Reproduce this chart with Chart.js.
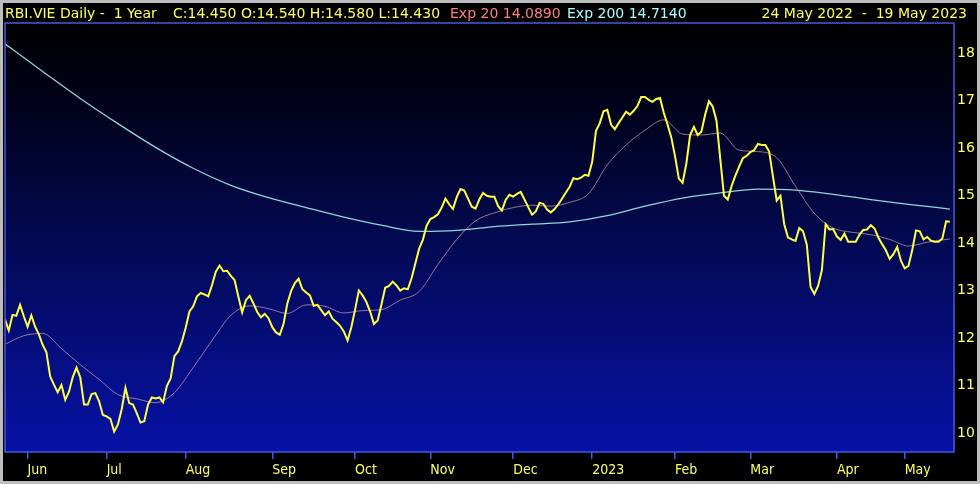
<!DOCTYPE html>
<html><head><meta charset="utf-8">
<script src="https://cdn.jsdelivr.net/npm/chart.js@4.4.0/dist/chart.umd.min.js"></script>
<style>html,body{margin:0;padding:0;background:#000;overflow:hidden}#wrap{width:980px;height:484px;position:relative}</style>
</head><body><div id="wrap"><canvas id="c" width="980" height="484"></canvas></div>
<script>
// Daily closes, 24 May 2022 .. 19 May 2023 (trading days)
const closes = [
12.39,12.16,12.49,12.47,12.70,12.46,12.24,12.48,12.24,12.08,
11.86,11.70,11.19,11.02,10.86,11.01,10.70,10.87,11.18,11.38,
11.17,10.60,10.60,10.82,10.84,10.67,10.38,10.35,10.30,10.03,
10.18,10.50,10.95,10.63,10.60,10.42,10.22,10.25,10.60,10.75,
10.73,10.75,10.65,10.99,11.15,11.62,11.72,11.93,12.22,12.56,
12.67,12.88,12.95,12.92,12.88,13.12,13.40,13.53,13.41,13.42,
13.31,13.22,12.87,12.54,12.80,12.89,12.73,12.55,12.44,12.51,
12.42,12.23,12.12,12.07,12.30,12.73,12.99,13.16,13.25,13.03,
12.96,12.90,12.68,12.70,12.59,12.48,12.56,12.41,12.34,12.26,
12.14,11.95,12.23,12.60,13.00,12.90,12.76,12.56,12.30,12.37,
12.71,13.06,13.10,13.19,13.11,13.00,13.05,13.03,13.26,13.57,
13.88,14.07,14.37,14.51,14.55,14.61,14.75,14.94,14.82,14.72,
14.97,15.14,15.11,14.94,14.77,14.73,14.92,15.06,15.00,14.98,
14.98,14.78,14.69,14.91,15.02,14.98,15.04,15.08,14.92,14.76,
14.60,14.67,14.85,14.83,14.71,14.65,14.72,14.82,14.94,15.07,
15.19,15.37,15.35,15.38,15.44,15.42,15.72,16.37,16.53,16.78,
16.81,16.50,16.40,16.53,16.65,16.77,16.71,16.79,16.89,17.08,
17.08,17.02,16.98,17.04,17.06,16.75,16.50,16.23,15.83,15.36,
15.27,15.68,16.28,16.45,16.28,16.35,16.71,16.99,16.88,16.58,
15.78,15.00,14.92,15.20,15.42,15.61,15.79,15.84,15.92,15.96,
16.09,16.07,16.07,15.93,15.41,14.90,15.00,14.40,14.12,14.08,
14.05,14.32,14.25,13.97,13.08,12.93,13.10,13.43,14.40,14.29,
14.30,14.14,14.07,14.20,14.03,14.03,14.03,14.18,14.28,14.29,
14.38,14.31,14.12,13.98,13.85,13.67,13.77,13.92,13.63,13.47,
13.52,13.85,14.27,14.25,14.08,14.13,14.05,14.03,14.03,14.10,
14.46,14.45
];
// Exponential averages at these trading-day indexes
const ema20Days = [0,5,10,15,20,25,30,35,40,45,50,55,60,65,70,75,80,85,90,95,100,105,110,115,120,125,130,135,140,145,150,155,160,165,170,175,180,185,190,195,200,205,210,215,220,225,230,235,240,245,251];
const ema20 = [11.87,12.05,12.10,11.78,11.44,11.13,10.81,10.72,10.64,10.85,11.38,11.95,12.48,12.68,12.62,12.52,12.70,12.67,12.53,12.58,12.60,12.80,12.98,13.55,14.08,14.47,14.64,14.75,14.80,14.78,14.86,15.04,15.65,16.07,16.38,16.60,16.30,16.28,16.32,15.96,15.93,15.80,15.20,14.63,14.32,14.23,14.18,14.08,13.94,14.02,14.09];
const ema200Days = [0,10,20,30,40,50,60,70,80,90,100,110,120,130,140,150,160,170,180,190,200,210,220,230,240,251];
const ema200 = [18.20,17.62,17.05,16.52,16.02,15.58,15.22,14.96,14.75,14.55,14.38,14.25,14.27,14.35,14.40,14.45,14.58,14.78,14.95,15.06,15.14,15.12,15.03,14.92,14.82,14.72];

const monthStartDays = [6,27,48,71,93,113,135,156,178,198,221,239];
const monthLabels = ['Jun','Jul','Aug','Sep','Oct','Nov','Dec','2023','Feb','Mar','Apr','May'];
const priceTicks = [10,11,12,13,14,15,16,17,18];

const headerParts = [
  {text:'RBI.VIE Daily -  1 Year', color:'#ffff66', x:5, w:155, align:'left'},
  {text:'C:14.450 O:14.540 H:14.580 L:14.430', color:'#ffff66', x:173, w:272, align:'left'},
  {text:'Exp 20 14.0890', color:'#ff7f85', x:450, w:113, align:'left'},
  {text:'Exp 200 14.7140', color:'#a8ffff', x:567, w:122, align:'left'},
  {text:'24 May 2022  -  19 May 2023', color:'#ffff66', x:967, w:214, align:'right'}
];

const YEL = '#ffff66';
const AXIS_FONT = "'Liberation Sans Narrow','DejaVu Sans Condensed',sans-serif";

const bgPlugin = {
  id:'bg',
  beforeDraw(chart){
    const {ctx, chartArea:a, width, height} = chart;
    ctx.save();
    ctx.fillStyle = '#000';
    ctx.fillRect(0,0,width,height);
    const g = ctx.createLinearGradient(0,a.top,0,a.bottom);
    g.addColorStop(0,'#000000');
    g.addColorStop(0.25,'#010324');
    g.addColorStop(0.55,'#030a5a');
    g.addColorStop(1,'#0712a6');
    ctx.fillStyle = g;
    ctx.fillRect(a.left,a.top,a.right-a.left,a.bottom-a.top);
    ctx.restore();
  },
  afterDraw(chart){
    const {ctx, chartArea:a, width, height} = chart;
    ctx.save();
    ctx.strokeStyle = '#4858e0';
    ctx.lineWidth = 1.5;
    ctx.strokeRect(a.left,a.top,a.right-a.left,a.bottom-a.top);
    ctx.font = "14px 'DejaVu Sans',sans-serif";
    ctx.textBaseline = 'middle';
    headerParts.forEach(p=>{
      ctx.fillStyle = p.color;
      ctx.textAlign = p.align;
      ctx.fillText(p.text,p.x,14,p.w);
    });
    ctx.strokeStyle = '#bdbdbd';
    ctx.lineWidth = 3;
    ctx.strokeRect(1.5,1.5,width-3,height-3);
    ctx.restore();
  }
};

new Chart(document.getElementById('c'),{
  type:'line',
  data:{datasets:[
    {label:'Close', data:closes.map((v,i)=>({x:i,y:v})), borderColor:'#ffff40', borderWidth:2, pointRadius:0, tension:0, order:0},
    {label:'Exp 20', data:ema20Days.map((d,k)=>({x:d,y:ema20[k]})), borderColor:'rgba(200,150,170,0.75)', borderWidth:1, pointRadius:0, cubicInterpolationMode:'monotone', order:1},
    {label:'Exp 200', data:ema200Days.map((d,k)=>({x:d,y:ema200[k]})), borderColor:'#8fd6d6', borderWidth:1.3, pointRadius:0, cubicInterpolationMode:'monotone', order:2}
  ]},
  options:{
    responsive:false, devicePixelRatio:1, animation:false,
    layout:{padding:{left:5,top:23,right:0,bottom:0}},
    plugins:{legend:{display:false}, tooltip:{enabled:false}},
    scales:{
      x:{type:'linear', min:0, max:252.1, position:'bottom',
        afterFit(s){s.height=32;},
        afterBuildTicks(s){s.ticks=monthStartDays.map(v=>({value:v}));},
        ticks:{autoSkip:false, maxRotation:0, minRotation:0, align:'start', color:YEL, padding:3,
          font:{family:AXIS_FONT,size:14}, callback:(v,i)=>monthLabels[i]},
        grid:{drawOnChartArea:false, drawTicks:true, tickLength:7, color:'#4a5ae0', lineWidth:1.5},
        border:{display:false}},
      y:{type:'linear', position:'right', min:9.6, max:18.64,
        afterFit(s){s.width=26;},
        afterBuildTicks(s){s.ticks=priceTicks.map(v=>({value:v}));},
        ticks:{color:YEL, padding:3, font:{family:"'DejaVu Sans',sans-serif",size:14}},
        grid:{display:false, drawTicks:false},
        border:{display:false}}
    }
  },
  plugins:[bgPlugin]
});
</script></body></html>
